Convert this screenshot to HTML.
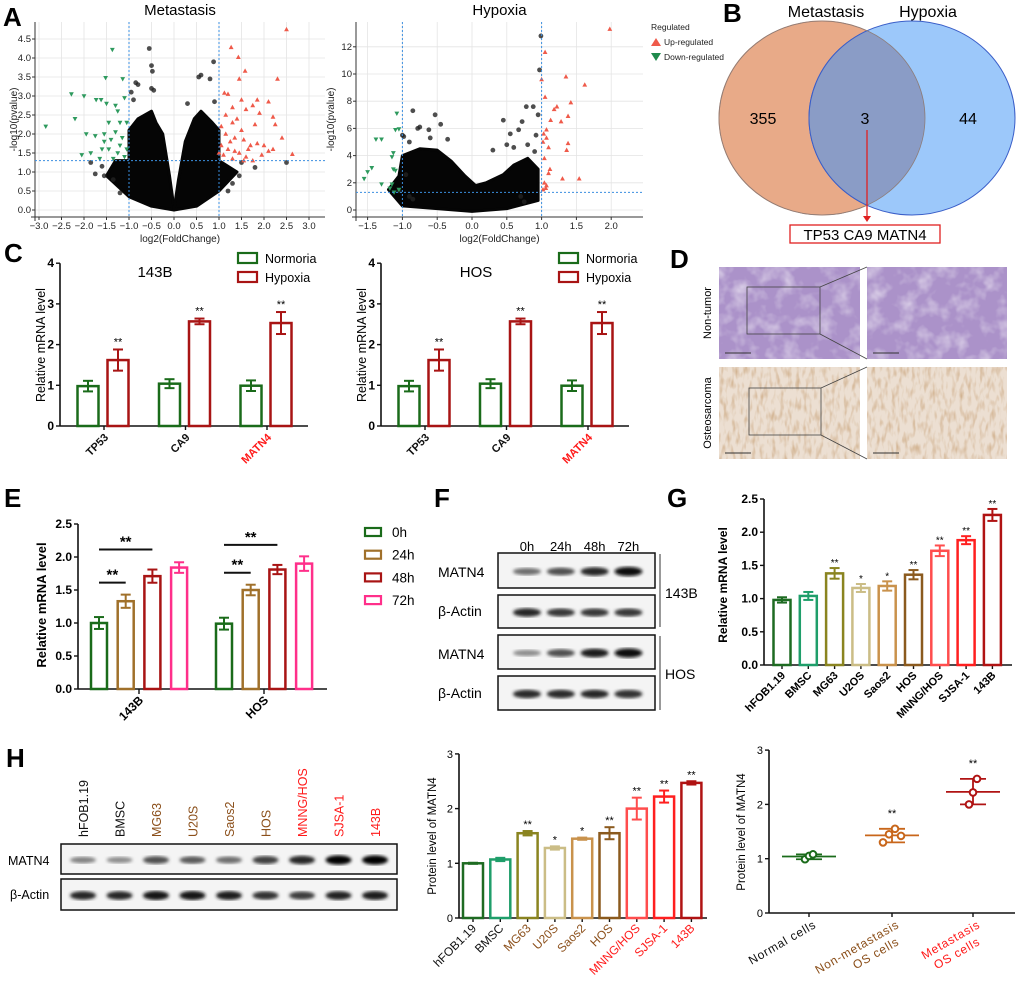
<!DOCTYPE html>
<html><head><meta charset="utf-8"><style>
html,body{margin:0;padding:0;background:#fff;}
svg{display:block;font-family:"Liberation Sans",Arial,sans-serif;}
</style></head><body>
<svg id="fig" width="1020" height="997" viewBox="0 0 1020 997" xmlns="http://www.w3.org/2000/svg">
<defs>
<filter id="tex1" x="0" y="0" width="100%" height="100%"><feTurbulence type="fractalNoise" baseFrequency="0.06" numOctaves="3" seed="3"/><feColorMatrix type="matrix" values="0 0 0 0 1  0 0 0 0 1  0 0 0 0 1  0 0 0 1.6 -0.7"/></filter>
<filter id="tex2" x="0" y="0" width="100%" height="100%"><feTurbulence type="fractalNoise" baseFrequency="0.25 0.09" numOctaves="2" seed="7"/><feColorMatrix type="matrix" values="0 0 0 0 0.62  0 0 0 0 0.42  0 0 0 0 0.25  0 0 0 2.2 -1.0"/></filter>
<filter id="blur1"><feGaussianBlur stdDeviation="1.6"/></filter>
</defs>
</svg>
<script>
// ---------------- DATA ----------------
const metaUpX=[1.27,1.43,1.58,1.45,2.5,2.3,1.12,1.2,1.5,1.85,2.1,1.75,1.3,1.6,1.9,2.2,2.25,1.8,1.05,1.4,1.15,1.35,1.55,2.4,1.7,1.95,2.2,2.63,2.1,1.2,1.45,1.1,1.3,1.6,1.85,1.05,1.25,1.0,1.15,1.3,1.5,1.65,1.35,1.75,1.55,2.0];
const metaUpY=[4.28,4.02,3.66,3.45,4.75,3.45,3.08,3.05,2.9,2.9,2.85,2.75,2.7,2.65,2.55,2.45,2.25,2.25,2.2,2.4,2.0,1.9,1.85,1.9,1.7,1.45,1.6,1.47,1.55,1.6,1.5,1.45,1.35,1.4,1.75,1.7,1.8,1.5,2.5,2.3,2.1,1.6,1.55,1.3,1.3,1.7];
const metaDnX=[-1.37,-1.52,-1.14,-2.28,-2.0,-1.73,-1.62,-1.5,-2.2,-1.3,-1.1,-2.85,-1.95,-1.55,-1.75,-1.4,-1.2,-1.15,-1.3,-1.6,-1.45,-2.05,-1.85,-1.25,-1.1,-1.35,-1.65,-1.05,-1.2,-1.45,-1.05,-1.25,-1.55];
const metaDnY=[4.22,3.48,3.45,3.05,3.0,2.9,2.9,2.8,2.4,2.75,2.95,2.2,2.0,2.0,1.95,1.85,2.3,1.9,2.05,1.6,1.6,1.45,1.5,1.5,1.4,1.35,1.35,1.6,1.7,2.3,2.3,2.6,1.8];
const metaNsX=[-0.55,-0.5,-0.48,0.88,0.6,0.55,0.8,-0.85,-0.8,-0.5,-0.45,-0.95,2.5,-1.85,-1.75,-1.55,-1.35,0.3,0.9,-0.9,1.8,1.5,-1.6,1.3,1.45,-1.2,1.2];
const metaNsY=[4.25,3.8,3.65,3.9,3.55,3.5,3.45,3.35,3.3,3.2,3.15,3.1,1.25,1.25,0.95,0.9,0.8,2.8,2.85,2.9,1.12,1.25,1.15,0.7,0.9,0.45,0.5];
const metaLeftArmX=[0,-0.5,-1.0,-1.5,-1.3,-1.0,-1.0,-0.8,-0.5,-0.4,-0.25,-0.1,0];
const metaLeftArmY=[0,0.1,0.35,0.9,1.3,1.3,2.1,2.4,2.6,2.3,2.0,0.9,0.05];
const metaRightArmX=[0,0.1,0.25,0.45,0.6,0.85,1.0,1.0,1.4,1.0,0.5];
const metaRightArmY=[0,0.8,1.8,2.4,2.6,2.3,2.1,1.3,1.0,0.5,0.1];

const hypUpX=[1.98,1.05,1.35,1.62,1.0,1.05,1.42,1.22,1.18,1.38,1.13,1.28,1.07,1.03,1.07,1.38,1.02,1.1,1.36,1.04,1.12,1.1,1.3,1.54,1.04,1.07,1.02,1.06];
const hypUpY=[13.3,11.6,9.8,9.2,9.6,8.3,7.9,7.6,7.4,6.9,6.6,6.5,5.9,5.6,5.3,4.9,5.0,4.6,4.4,3.8,3.0,2.7,2.3,2.3,2.0,1.8,1.5,1.6];
const hypDnX=[-1.08,-1.05,-1.1,-1.38,-1.3,-1.13,-1.15,-1.44,-1.5,-1.13,-1.1,-1.55,-1.3,-1.15,-1.18,-1.05,-1.12];
const hypDnY=[7.1,5.95,5.9,5.2,5.2,4.2,3.9,3.1,2.8,3.0,2.9,2.3,1.9,1.9,1.6,1.5,1.3];
const hypNsX=[0.99,0.97,-0.85,-0.53,-0.45,0.45,0.78,0.88,0.95,0.72,-0.75,-0.78,-1.0,-0.98,0.55,0.67,0.92,-0.62,0.9,0.8,-0.9,-0.6,-0.35,0.3,0.6,0.5,-0.95,-1.05,-0.9,-0.85,0.7,0.75];
const hypNsY=[12.8,10.3,7.3,7.0,6.3,6.6,7.6,7.6,7.0,6.5,6.1,6.0,5.5,5.4,5.6,5.9,5.5,5.9,4.3,4.8,5.0,5.3,5.2,4.4,4.6,4.8,2.6,1.4,1.0,0.8,1.0,0.6];
const hypBodyX=[-1.0,-0.5,0,0.5,0.95,0.95,0.8,0.6,0.45,0.2,0.05,-0.1,-0.3,-0.5,-0.75,-1.0,-1.05,-1.2];
const hypBodyY=[0.3,0.1,-0.1,0.1,0.7,3.0,3.8,3.3,2.6,2.0,1.8,2.5,3.6,4.4,4.5,4.0,2.5,1.5];

const cCats=['TP53','CA9','MATN4'];
const c143Norm=[0.98,1.04,0.99];
const c143NormErr=[0.13,0.11,0.13];
const c143Hyp=[1.62,2.57,2.53];
const c143HypErr=[0.26,0.07,0.27];
const cHosNorm=[0.98,1.04,0.99];
const cHosNormErr=[0.13,0.11,0.13];
const cHosHyp=[1.62,2.57,2.53];
const cHosHypErr=[0.26,0.07,0.27];
const cTicks=[0,1,2,3,4];

const eGroups=['143B','HOS'];
const eSeries=['0h','24h','48h','72h'];
const e143B=[1.0,1.33,1.71,1.84];
const e143BErr=[0.09,0.1,0.1,0.08];
const eHOS=[0.99,1.5,1.81,1.9];
const eHOSErr=[0.09,0.08,0.07,0.11];
const eTicks=[0,0.5,1.0,1.5,2.0,2.5];

const fLanes=['0h','24h','48h','72h'];
const f143Matn4=[0.45,0.6,0.8,0.95];
const f143Actin=[0.8,0.72,0.72,0.72];
const fHosMatn4=[0.3,0.6,0.85,0.95];
const fHosActin=[0.78,0.78,0.8,0.76];

const gCats=['hFOB1.19','BMSC','MG63','U2OS','Saos2','HOS','MNNG/HOS','SJSA-1','143B'];
const gVals=[0.98,1.04,1.38,1.16,1.19,1.36,1.72,1.88,2.26];
const gErr=[0.04,0.06,0.08,0.06,0.07,0.07,0.08,0.06,0.09];
const gSig=['','','**','*','*','**','**','**','**'];
const gTicks=[0,0.5,1.0,1.5,2.0,2.5];

const hLanes=['hFOB1.19','BMSC','MG63','U20S','Saos2','HOS','MNNG/HOS','SJSA-1','143B'];
const hMatn4=[0.35,0.3,0.6,0.55,0.45,0.68,0.8,0.98,0.98];
const hActin=[0.8,0.8,0.9,0.9,0.85,0.75,0.7,0.82,0.85];
const hVals=[1.0,1.07,1.55,1.28,1.45,1.55,2.0,2.22,2.47];
const hErr=[0.01,0.03,0.04,0.03,0.02,0.11,0.2,0.11,0.03];
const hSig=['','','**','*','*','**','**','**','**'];
const hTicks=[0,1,2,3];

const dotGroups=['Normal cells','Non-metastasis|OS cells','Metastasis|OS cells'];
const dotNormal=[0.99,1.05,1.08];
const dotNonMet=[1.3,1.45,1.55,1.42];
const dotMet=[2.0,2.22,2.47];
const dotTicks=[0,1,2,3];

// ---------------- HELPERS ----------------
const NS='http://www.w3.org/2000/svg';
const svg=document.getElementById('fig');
function mk(tag,attrs,parent){const e=document.createElementNS(NS,tag);for(const k in attrs)e.setAttribute(k,attrs[k]);(parent||svg).appendChild(e);return e;}
function txt(x,y,s,attrs,parent){const e=mk('text',Object.assign({x:x,y:y},attrs||{}),parent);e.textContent=s;return e;}
function grp(){return mk('g',{});}
const GCOL=['#1e6b22','#1f9e6a','#8a8420','#cbbd86','#c9924c','#8b5a1e','#ff4d4d','#ff1f1f','#b01313'];

// panel letters
[['A',3,26],['B',723,22],['C',4,262],['D',670,268],['E',4,507],['F',434,507],['G',667,507],['H',6,767]].forEach(p=>{
  const t=txt(p[1],p[2],p[0],{'font-size':26,'font-weight':'bold'});
  
  
});

// ---------------- VOLCANO ----------------
function volcano(cfg){
  const g=grp();
  
  
  const X=v=>cfg.x0+v*cfg.px, Y=v=>cfg.y0-v*cfg.py;
  mk('rect',{x:cfg.L,y:cfg.T,width:cfg.R-cfg.L,height:cfg.B-cfg.T,fill:'#fff',stroke:'none'},g);
  cfg.xt.forEach(v=>{mk('line',{x1:X(v),x2:X(v),y1:cfg.T,y2:cfg.B,stroke:'#e4e4e4','stroke-width':0.8},g);});
  cfg.yt.forEach(v=>{mk('line',{x1:cfg.L,x2:cfg.R,y1:Y(v),y2:Y(v),stroke:'#e4e4e4','stroke-width':0.8},g);});
  mk('line',{x1:cfg.L,x2:cfg.L,y1:cfg.T,y2:cfg.B+4,stroke:'#333','stroke-width':1},g);
  mk('line',{x1:cfg.L-4,x2:cfg.R,y1:cfg.B,y2:cfg.B,stroke:'#333','stroke-width':1},g);
  cfg.xt.forEach(v=>{mk('line',{x1:X(v),x2:X(v),y1:cfg.B,y2:cfg.B+3,stroke:'#333'},g);
    const t=txt(X(v),cfg.B+12,v.toFixed(1).replace('-','−'),{'font-size':9.5,'text-anchor':'middle',fill:'#222'},g);
    });
  cfg.yt.forEach(v=>{mk('line',{x1:cfg.L-3,x2:cfg.L,y1:Y(v),y2:Y(v),stroke:'#333'},g);
    const t=txt(cfg.L-4,Y(v)+3,cfg.yfmt(v),{'font-size':9.5,'text-anchor':'end',fill:'#222'},g);
    });
  cfg.bodies.forEach(b=>{
    const pts=b[0].map((v,i)=>X(v)+','+Y(b[1][i])).join(' ');
    const p=mk('polygon',{points:pts,fill:'#050505',stroke:'#050505','stroke-width':3,'stroke-linejoin':'round'},g);
    
  });
  cfg.nsX.forEach((v,i)=>{const c=mk('circle',{cx:X(v),cy:Y(cfg.nsY[i]),r:2.4,fill:'#222','fill-opacity':0.8},g);
    });
  cfg.upX.forEach((v,i)=>{const x=X(v),y=Y(cfg.upY[i]);
    const p=mk('polygon',{points:`${x},${y-2.6} ${x-2.4},${y+1.8} ${x+2.4},${y+1.8}`,fill:'#ef5a4a'},g);
    });
  cfg.dnX.forEach((v,i)=>{const x=X(v),y=Y(cfg.dnY[i]);
    const p=mk('polygon',{points:`${x},${y+2.6} ${x-2.4},${y-1.8} ${x+2.4},${y-1.8}`,fill:'#2e9a5e'},g);
    });
  [X(-1),X(1)].forEach(x=>mk('line',{x1:x,x2:x,y1:cfg.T,y2:cfg.B,stroke:'#3b8fe0','stroke-width':1,'stroke-dasharray':'2,2'},g));
  mk('line',{x1:cfg.L,x2:cfg.R,y1:Y(1.3),y2:Y(1.3),stroke:'#3b8fe0','stroke-width':1,'stroke-dasharray':'2,2'},g);
  const tt=txt((cfg.L+cfg.R)/2,15,cfg.title,{'font-size':15,'text-anchor':'middle'},g);
  
  const xl=txt((cfg.L+cfg.R)/2,cfg.B+25,'log2(FoldChange)',{'font-size':10,'text-anchor':'middle',fill:'#222'},g);
  
  const yl=txt(0,0,'-log10(pvalue)',{'font-size':10,'text-anchor':'middle',fill:'#222',transform:`translate(${cfg.ylx},${(cfg.T+cfg.B)/2}) rotate(-90)`},g);
  
}
volcano({name:'volcano-metastasis',title:'Metastasis',L:35,R:325,T:22,B:217,x0:174,px:45,y0:210,py:38,
  xt:[-3,-2.5,-2,-1.5,-1,-0.5,0,0.5,1,1.5,2,2.5,3],yt:[0,0.5,1,1.5,2,2.5,3,3.5,4,4.5],yfmt:v=>v.toFixed(1),ylx:17,
  bodies:[[metaLeftArmX,metaLeftArmY],[metaRightArmX,metaRightArmY]],nsX:metaNsX,nsY:metaNsY,upX:metaUpX,upY:metaUpY,dnX:metaDnX,dnY:metaDnY});
volcano({name:'volcano-hypoxia',title:'Hypoxia',L:356,R:643,T:22,B:217,x0:472,px:69.6,y0:210,py:13.6,
  xt:[-1.5,-1,-0.5,0,0.5,1,1.5,2],yt:[0,2,4,6,8,10,12],yfmt:v=>String(v),ylx:334,
  bodies:[[hypBodyX,hypBodyY]],nsX:hypNsX,nsY:hypNsY,upX:hypUpX,upY:hypUpY,dnX:hypDnX,dnY:hypDnY});
(function(){const g=grp();
  
  
  txt(651,30,'Regulated',{'font-size':8.5,fill:'#222'},g);
  mk('polygon',{points:'656,38 651,46 661,46',fill:'#ef5a4a'},g);
  txt(664,45,'Up-regulated',{'font-size':8.5,fill:'#222'},g);
  mk('polygon',{points:'656,61 651,53 661,53',fill:'#1f8a4c'},g);
  txt(664,60,'Down-regulated',{'font-size':8.5,fill:'#222'},g);
})();

// ---------------- VENN ----------------
(function(){const g=grp();
  
  
  const a=mk('ellipse',{cx:822,cy:118,rx:103,ry:97,fill:'#e8aa88',stroke:'#c58a68','stroke-width':1},g);
  
  const b=mk('ellipse',{cx:912,cy:118,rx:103,ry:97,fill:'#9cc8fa','fill-opacity':1,stroke:'#3a5ec8','stroke-width':1},g);
  
  mk('clipPath',{id:'clipA'},g).appendChild(Object.assign(document.createElementNS(NS,'ellipse')));
  const cp=document.getElementById('clipA').firstChild;cp.setAttribute('cx',822);cp.setAttribute('cy',118);cp.setAttribute('rx',103);cp.setAttribute('ry',97);
  const ov=mk('ellipse',{cx:912,cy:118,rx:103,ry:97,fill:'#8a9cc6',stroke:'#3a5ec8','stroke-width':1,'clip-path':'url(#clipA)'},g);
  
  mk('ellipse',{cx:822,cy:118,rx:103,ry:97,fill:'none',stroke:'#8d7d7a','stroke-width':0.8,'clip-path':'url(#clipB)'},g);
  txt(826,17,'Metastasis',{'font-size':16,'text-anchor':'middle'},g);
  txt(928,17,'Hypoxia',{'font-size':16,'text-anchor':'middle'},g);
  txt(763,124,'355',{'font-size':16,'text-anchor':'middle'},g);
  txt(865,124,'3',{'font-size':16,'text-anchor':'middle'},g);
  txt(968,124,'44',{'font-size':16,'text-anchor':'middle'},g);
  mk('line',{x1:867,y1:130,x2:867,y2:217,stroke:'#e02020','stroke-width':1.3},g);
  mk('polygon',{points:'863,216 871,216 867,222',fill:'#e02020'},g);
  const bx=mk('rect',{x:790,y:225,width:150,height:18,fill:'#fff',stroke:'#e02020','stroke-width':1.3},g);
  
  txt(865,240,'TP53 CA9 MATN4',{'font-size':15,'text-anchor':'middle'},g);
})();

// ---------------- D: IHC images ----------------
(function(){const g=grp();
  
  
  const rows=[[267,359,'#ab92c9','tex1','Non-tumor'],[367,459,'#ecdfd2','tex2','Osteosarcoma']];
  rows.forEach((r,ri)=>{
    [[719,860],[867,1007]].forEach((c,ci)=>{
      const im=mk('rect',{x:c[0],y:r[0],width:c[1]-c[0],height:r[1]-r[0],fill:r[2]},g);
      
      mk('rect',{x:c[0],y:r[0],width:c[1]-c[0],height:r[1]-r[0],filter:'url(#'+r[3]+')',opacity:ri?0.9:0.7},g);
      mk('line',{x1:c[0]+6,x2:c[0]+32,y1:r[1]-6,y2:r[1]-6,stroke:'#333','stroke-width':1},g);
    });
    const t=txt(0,0,r[4],{'font-size':11,'text-anchor':'middle',transform:`translate(711,${(r[0]+r[1])/2}) rotate(-90)`},g);
    
  });
  [[747,287,820,334],[749,388,821,435]].forEach((b,i)=>{
    const y0=i?367:267,y1=i?459:359;
    mk('rect',{x:b[0],y:b[1],width:b[2]-b[0],height:b[3]-b[1],fill:'none',stroke:'#444','stroke-width':0.8},g);
    mk('line',{x1:b[2],y1:b[1],x2:867,y2:y0,stroke:'#444','stroke-width':0.8},g);
    mk('line',{x1:b[2],y1:b[3],x2:867,y2:y1,stroke:'#444','stroke-width':0.8},g);
  });
})();

// ---------------- generic bar chart ----------------
function axisY(g,ax,y0,ppu,ticks,fmt,fs,bold){
  const top=y0-ticks[ticks.length-1]*ppu;
  mk('line',{x1:ax,x2:ax,y1:top,y2:y0,stroke:'#111','stroke-width':1.6},g);
  ticks.forEach(v=>{const y=y0-v*ppu;mk('line',{x1:ax-4,x2:ax,y1:y,y2:y,stroke:'#111','stroke-width':1.4},g);
    const t=txt(ax-6,y+4,fmt(v),{'font-size':fs,'text-anchor':'end','font-weight':bold?'bold':'normal'},g);
    });
}
function bar(g,cx,w,y0,ppu,v,err,col,name,sw){
  const r=mk('rect',{x:cx-w/2,y:y0-v*ppu,width:w,height:v*ppu,fill:'#fff',stroke:col,'stroke-width':sw||2.5},g);
  
  const yt=y0-(v+err)*ppu,yb=y0-(v-err)*ppu;
  mk('line',{x1:cx,x2:cx,y1:yt,y2:yb,stroke:col,'stroke-width':2},g);
  mk('line',{x1:cx-5,x2:cx+5,y1:yt,y2:yt,stroke:col,'stroke-width':2},g);
  mk('line',{x1:cx-5,x2:cx+5,y1:yb,y2:yb,stroke:col,'stroke-width':2},g);
  return yt;
}

// ---------------- C ----------------
function chartC(off,title,norm,normErr,hyp,hypErr){
  const g=grp();
  
  
  const ax=60+off,y0=426,ppu=40.7;
  axisY(g,ax,y0,ppu,cTicks,v=>String(v),12,true);
  mk('line',{x1:ax,x2:308+off,y1:y0,y2:y0,stroke:'#111','stroke-width':1.6},g);
  cCats.forEach((c,i)=>{
    const cx=104+off+i*81.5;
    mk('line',{x1:cx,x2:cx,y1:y0,y2:y0+4,stroke:'#111','stroke-width':1.4},g);
    bar(g,cx-16,21,y0,ppu,norm[i],normErr[i],'#1a6b1a','bar-normoxia-'+c);
    const yt=bar(g,cx+14,21,y0,ppu,hyp[i],hypErr[i],'#a81414','bar-hypoxia-'+c);
    txt(cx+14,yt-4,'**',{'font-size':11,'text-anchor':'middle'},g);
    const t=txt(0,0,c,{'font-size':11,'font-weight':'bold','text-anchor':'end',fill:c==='MATN4'?'#ff1a1a':'#111',transform:`translate(${cx+5},${y0+12}) rotate(-45)`},g);
    
  });
  txt(155+off,277,title,{'font-size':15,'text-anchor':'middle'},g);
  const yl=txt(0,0,'Relative mRNA level',{'font-size':12.5,'text-anchor':'middle',transform:`translate(${45+off},345) rotate(-90)`},g);
  
  mk('rect',{x:238+off,y:253,width:19,height:10,fill:'#fff',stroke:'#1a6b1a','stroke-width':2.2},g);
  txt(265+off,263,'Normoria',{'font-size':12.5},g);
  mk('rect',{x:238+off,y:272,width:19,height:10,fill:'#fff',stroke:'#a81414','stroke-width':2.2},g);
  txt(265+off,282,'Hypoxia',{'font-size':12.5},g);
}
chartC(0,'143B',c143Norm,c143NormErr,c143Hyp,c143HypErr);
chartC(321,'HOS',cHosNorm,cHosNormErr,cHosHyp,cHosHypErr);

// ---------------- E ----------------
(function(){const g=grp();
  
  
  const ax=78,y0=689,ppu=66;const cols=['#1a6b1a','#a0702a','#a81414','#ff2f8a'];
  axisY(g,ax,y0,ppu,eTicks,v=>v.toFixed(1),12,true);
  mk('line',{x1:ax,x2:327,y1:y0,y2:y0,stroke:'#111','stroke-width':1.6},g);
  const data=[[e143B,e143BErr],[eHOS,eHOSErr]];
  eGroups.forEach((gr,gi)=>{
    const base=gi?224:99;const ctr=base+40;
    mk('line',{x1:ctr,x2:ctr,y1:y0,y2:y0+5,stroke:'#111','stroke-width':1.4},g);
    const xs=eSeries.map((s,si)=>base+si*26.7);
    eSeries.forEach((s,si)=>bar(g,xs[si],16,y0,ppu,data[gi][0][si],data[gi][1][si],cols[si],'bar-'+gr+'-'+s));
    const yU=y0-(data[gi][0][2]+data[gi][1][2])*ppu-20, yL=y0-(data[gi][0][1]+data[gi][1][1])*ppu-12;
    mk('line',{x1:xs[0],x2:xs[2],y1:yU,y2:yU,stroke:'#111','stroke-width':2},g);
    txt((xs[0]+xs[2])/2,yU-3,'**',{'font-size':15,'font-weight':'bold','text-anchor':'middle'},g);
    mk('line',{x1:xs[0],x2:xs[1],y1:yL,y2:yL,stroke:'#111','stroke-width':2},g);
    txt((xs[0]+xs[1])/2,yL-3,'**',{'font-size':15,'font-weight':'bold','text-anchor':'middle'},g);
    const t=txt(0,0,gr,{'font-size':12,'font-weight':'bold','text-anchor':'end',transform:`translate(${ctr+5},${y0+12}) rotate(-45)`},g);
    
  });
  const yl=txt(0,0,'Relative mRNA level',{'font-size':13,'font-weight':'bold','text-anchor':'middle',transform:`translate(46,605) rotate(-90)`},g);
  
  eSeries.forEach((s,si)=>{const y=528+si*22.7;
    const r=mk('rect',{x:365,y:y,width:16,height:8,fill:'#fff',stroke:cols[si],'stroke-width':2.2},g);
    
    txt(392,y+9,s,{'font-size':13.5},g);});
})();

// ---------------- blots ----------------
function blotBox(g,x0,x1,y0,y1,centers,vals,bw,name){
  const r=mk('rect',{x:x0,y:y0,width:x1-x0,height:y1-y0,fill:'#f4f4f4',stroke:'#111','stroke-width':1.5},g);
  
  const cy=(y0+y1)/2+1;
  centers.forEach((cx,i)=>{const v=vals[i];const s=Math.round(200-200*v);
    const b=mk('ellipse',{cx:cx,cy:cy,rx:bw/2,ry:2.5+v*2.2,fill:`rgb(${s},${s},${s})`,filter:'url(#blur1)'},g);
    });
}
(function(){const g=grp();
  
  
  const cs=fLanes.map((l,i)=>527+i*33.8);
  fLanes.forEach((l,i)=>txt(cs[i],551,l,{'font-size':13,'text-anchor':'middle'},g));
  blotBox(g,498,655,553,588,cs,f143Matn4,28,'blot-143b-matn4');
  blotBox(g,498,655,595,628,cs,f143Actin,28,'blot-143b-actin');
  blotBox(g,498,655,635,669,cs,fHosMatn4,28,'blot-hos-matn4');
  blotBox(g,498,655,676,710,cs,fHosActin,28,'blot-hos-actin');
  [['MATN4',577],['β-Actin',616],['MATN4',659],['β-Actin',698]].forEach(p=>txt(438,p[1],p[0],{'font-size':14},g));
  mk('line',{x1:660,x2:660,y1:554,y2:627,stroke:'#333'},g);
  mk('line',{x1:660,x2:660,y1:636,y2:710,stroke:'#333'},g);
  txt(665,598,'143B',{'font-size':14},g);
  txt(665,679,'HOS',{'font-size':14},g);
})();

// ---------------- G ----------------
(function(){const g=grp();
  
  
  const ax=764,y0=665,ppu=66.4;
  axisY(g,ax,y0,ppu,gTicks,v=>v.toFixed(1),12,true);
  mk('line',{x1:ax,x2:1012,y1:y0,y2:y0,stroke:'#111','stroke-width':1.6},g);
  gCats.forEach((c,i)=>{const cx=782+i*26.3;
    mk('line',{x1:cx,x2:cx,y1:y0,y2:y0+4,stroke:'#111','stroke-width':1.4},g);
    const yt=bar(g,cx,17,y0,ppu,gVals[i],gErr[i],GCOL[i],'bar-'+c,2.5);
    if(gSig[i])txt(cx,yt-2,gSig[i],{'font-size':10,'text-anchor':'middle'},g);
    const t=txt(0,0,c,{'font-size':11,'font-weight':'bold','text-anchor':'end',transform:`translate(${cx+4},${y0+11}) rotate(-45)`},g);
    });
  const yl=txt(0,0,'Relative mRNA level',{'font-size':12,'font-weight':'bold','text-anchor':'middle',transform:`translate(727,585) rotate(-90)`},g);
  
})();

// ---------------- H blot ----------------
(function(){const g=grp();
  
  
  const cs=hLanes.map((l,i)=>83+i*36.5);
  const lc=['#111','#111','#8b4f1a','#8b4f1a','#8b4f1a','#8b4f1a','#ff1a1a','#ff1a1a','#ff1a1a'];
  hLanes.forEach((l,i)=>{const t=txt(0,0,l,{'font-size':12.5,fill:lc[i],transform:`translate(${cs[i]+5},837) rotate(-90)`},g);
    });
  blotBox(g,61,397,844,874,cs,hMatn4,26,'blot-h-matn4');
  blotBox(g,61,397,879,910,cs,hActin,26,'blot-h-actin');
  txt(8,865,'MATN4',{'font-size':12.5},g);
  txt(10,899,'β-Actin',{'font-size':12.5},g);
})();

// ---------------- H bars ----------------
(function(){const g=grp();
  
  
  const ax=459,y0=918,ppu=54.7;
  const lc=['#111','#111','#8b4f1a','#8b4f1a','#8b4f1a','#8b4f1a','#ff1a1a','#ff1a1a','#ff1a1a'];
  axisY(g,ax,y0,ppu,hTicks,v=>String(v),11,false);
  mk('line',{x1:ax,x2:707,y1:y0,y2:y0,stroke:'#111','stroke-width':1.6},g);
  hLanes.forEach((c,i)=>{const cx=473+i*27.3;
    mk('line',{x1:cx,x2:cx,y1:y0,y2:y0+4,stroke:'#111','stroke-width':1.4},g);
    const yt=bar(g,cx,20,y0,ppu,hVals[i],hErr[i],GCOL[i],'bar-'+c,2.5);
    if(hSig[i])txt(cx,yt-3,hSig[i],{'font-size':11,'text-anchor':'middle'},g);
    const t=txt(0,0,c,{'font-size':12,'text-anchor':'end',fill:lc[i],transform:`translate(${cx+4},${y0+11}) rotate(-45)`},g);
    });
  const yl=txt(0,0,'Protein level of MATN4',{'font-size':11.5,'text-anchor':'middle',transform:`translate(436,836) rotate(-90)`},g);
  
})();

// ---------------- H dot plot ----------------
(function(){const g=grp();
  
  
  const ax=769,y0=913,ppu=54.3;
  axisY(g,ax,y0,ppu,dotTicks,v=>String(v),11,false);
  mk('line',{x1:ax,x2:1015,y1:y0,y2:y0,stroke:'#111','stroke-width':1.6},g);
  const sets=[dotNormal,dotNonMet,dotMet];const cols=['#1a6b1a','#c8661a','#b01313'];const lc=['#111','#8b4f1a','#ff1a1a'];
  const xs=[809,892,973];
  sets.forEach((s,i)=>{const cx=xs[i];
    mk('line',{x1:cx,x2:cx,y1:y0,y2:y0+4,stroke:'#111','stroke-width':1.4},g);
    const mean=s.reduce((a,b)=>a+b,0)/s.length;
    const mn=Math.min(...s),mx=Math.max(...s);
    mk('line',{x1:cx-27,x2:cx+27,y1:y0-mean*ppu,y2:y0-mean*ppu,stroke:cols[i],'stroke-width':1.8},g);
    mk('line',{x1:cx,x2:cx,y1:y0-mx*ppu,y2:y0-mn*ppu,stroke:cols[i],'stroke-width':1.8},g);
    mk('line',{x1:cx-13,x2:cx+13,y1:y0-mx*ppu,y2:y0-mx*ppu,stroke:cols[i],'stroke-width':1.8},g);
    mk('line',{x1:cx-13,x2:cx+13,y1:y0-mn*ppu,y2:y0-mn*ppu,stroke:cols[i],'stroke-width':1.8},g);
    s.forEach((v,j)=>{const off=s.length>3?(j-1.5)*6:(j-1)*4;
      const c=mk('circle',{cx:cx+off,cy:y0-v*ppu,r:3.3,fill:'#fff',stroke:cols[i],'stroke-width':2},g);
      });
    if(i>0)txt(cx,y0-mx*ppu-12,'**',{'font-size':11,'text-anchor':'middle'},g);
    const parts=dotGroups[i].split('|');
    parts.forEach((p,k)=>{const t=txt(0,0,p,{'font-size':12,'letter-spacing':'0.8','text-anchor':'end',fill:lc[i],transform:`translate(${cx+8+k*0},${y0+14+k*17}) rotate(-30)`},g);
      });
  });
  const yl=txt(0,0,'Protein level of MATN4',{'font-size':11.5,'text-anchor':'middle',transform:`translate(745,832) rotate(-90)`},g);
  
})();
</script>
</body></html>
